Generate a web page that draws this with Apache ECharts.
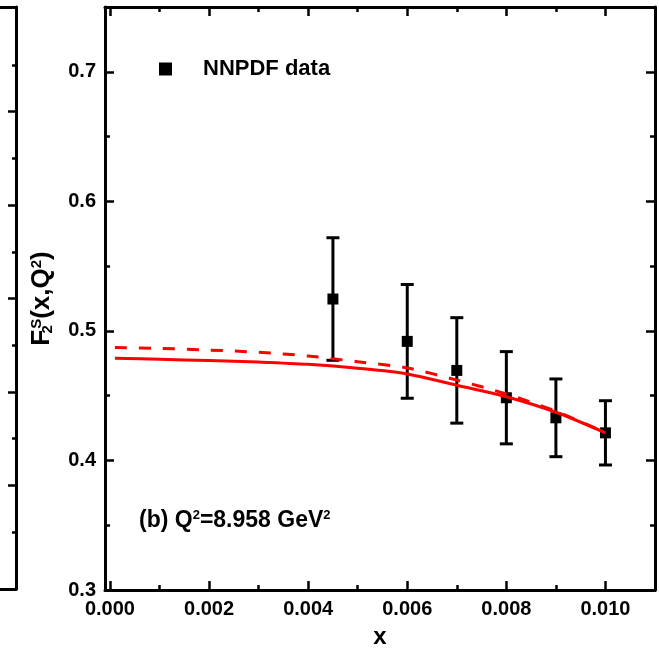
<!DOCTYPE html>
<html><head><meta charset="utf-8">
<script src="https://cdn.jsdelivr.net/npm/echarts@6/dist/echarts.min.js"></script>
<style>html,body{margin:0;padding:0;background:#fff}#c{width:659px;height:653px}</style>
</head><body><div id="c"></div>
<script>
// ---- data ----
const xData = [0.0045, 0.006, 0.007, 0.008, 0.009, 0.010];
const yData = [0.5246, 0.4919, 0.4695, 0.4484, 0.4329, 0.4213];
const yErr  = [0.0473, 0.0439, 0.0407, 0.0356, 0.0300, 0.0248];
const curveX  = [0.0001, 0.001, 0.002, 0.003, 0.004, 0.005, 0.006, 0.007, 0.008, 0.009, 0.010];
const solidY  = [0.4788, 0.4781, 0.4771, 0.4759, 0.4742, 0.4712, 0.4668, 0.4580, 0.4492, 0.4372, 0.4213];
const dashedY = [0.4872, 0.4865, 0.4852, 0.4835, 0.4806, 0.4762, 0.4714, 0.4620, 0.4513, 0.4380, 0.4215];
const xMajorTicks = [0, 0.002, 0.004, 0.006, 0.008, 0.010];
const xMinorTicks = [0.001, 0.003, 0.005, 0.007, 0.009];
const yMajorTicks = [0.3, 0.4, 0.5, 0.6, 0.7];
const yMinorTicks = [0.35, 0.45, 0.55, 0.65];
const leftPanelMajorTicks = [1, 3, 5, 7, 9];
const leftPanelMinorTicks = [0, 2, 4, 6, 8, 10];
const seriesName = 'NNPDF data';

const FONT = 'Liberation Sans, Arial, sans-serif';
const BLACK = '#000';
const RED = '#ff0000';
const axisLineStyle = {color: BLACK, width: 3};
const lineOn = {show: true, onZero: false, lineStyle: axisLineStyle};
const lineOff = {show: false, onZero: false};

function xAx(opts) {
  return Object.assign({
    type: 'value', gridIndex: 0, min: -0.0001, max: 0.011,
    splitLine: {show: false}, axisLine: lineOff,
    axisTick: {show: false}, axisLabel: {show: false}
  }, opts);
}
function yAx(opts) {
  return Object.assign({
    type: 'value', gridIndex: 0, min: 0.3, max: 0.75,
    splitLine: {show: false}, axisLine: lineOff,
    axisTick: {show: false}, axisLabel: {show: false}
  }, opts);
}
const majorTick = (vals) => ({show: true, inside: true, length: 9, customValues: vals, lineStyle: {color: BLACK, width: 2.5}});
const minorTick = (vals) => ({show: true, inside: true, length: 5, customValues: vals, lineStyle: {color: BLACK, width: 2.5}});
const plainAxis = (g, pos, line) => ({type: 'value', gridIndex: g, min: 0, max: 1, position: pos,
  axisLine: line ? lineOn : lineOff, axisTick: {show: false}, axisLabel: {show: false}, splitLine: {show: false}});

const chart = echarts.init(document.getElementById('c'), null, {renderer: 'canvas'});
const option = {
  backgroundColor: '#fff',
  animation: false,
  textStyle: {fontFamily: FONT},
  grid: [
    {left: 105, right: 4, top: 7, bottom: 63, outerBoundsMode: 'none', containLabel: false},
    {left: -60, width: 76, top: 7, bottom: 64, outerBoundsMode: 'none', containLabel: false},
    {left: -60, width: 76, top: 65, bottom: 121, outerBoundsMode: 'none', containLabel: false},
    {left: -60, width: 76, top: 65, bottom: 121, outerBoundsMode: 'none', containLabel: false}
  ],
  title: {
    text: '(b) Q{sup|2}=8.958 GeV{sup|2}',
    left: 134, top: 504,
    textStyle: {
      fontFamily: FONT, fontSize: 23, fontWeight: 'bold', color: BLACK,
      rich: {sup: {fontFamily: FONT, fontSize: 13, fontWeight: 'bold', color: BLACK, verticalAlign: 'top'}}
    }
  },
  legend: {
    data: [{name: seriesName, icon: 'rect'}],
    left: 154, top: 53, itemWidth: 13, itemHeight: 13,
    textStyle: {fontFamily: FONT, fontSize: 22, fontWeight: 'bold', color: BLACK, padding: [0, 0, 0, 26]},
    selectedMode: false
  },
  xAxis: [
    xAx({position: 'bottom', axisLine: lineOn,
      axisTick: majorTick(xMajorTicks),
      axisLabel: {show: true, customValues: xMajorTicks, formatter: v => v.toFixed(3),
        fontFamily: FONT, fontSize: 20, fontWeight: 'bold', color: BLACK, margin: 9},
      name: 'x', nameLocation: 'middle', nameGap: 35,
      nameTextStyle: {fontFamily: FONT, fontSize: 24, fontWeight: 'bold', color: BLACK}}),
    xAx({position: 'bottom', axisTick: minorTick(xMinorTicks)}),
    xAx({position: 'top', axisLine: lineOn, axisTick: majorTick(xMajorTicks)}),
    xAx({position: 'top', axisTick: minorTick(xMinorTicks)}),
    plainAxis(1, 'bottom', true),
    plainAxis(1, 'top', true),
    plainAxis(2, 'bottom', false),
    plainAxis(3, 'bottom', false)
  ],
  yAxis: [
    yAx({position: 'left', axisLine: lineOn,
      axisTick: majorTick(yMajorTicks),
      axisLabel: {show: true, customValues: yMajorTicks, formatter: v => v.toFixed(1),
        fontFamily: FONT, fontSize: 20, fontWeight: 'bold', color: BLACK, margin: 9},
      name: '{f|F}{sub|2}{sup|S}{f|(x,Q}{sup|2}{f|)}', nameLocation: 'middle', nameRotate: 90, nameGap: 50,
      nameTextStyle: {fontFamily: FONT, color: BLACK, fontWeight: 'bold', fontSize: 26,
        rich: {
          f: {fontFamily: FONT, fontSize: 26, fontWeight: 'bold', color: BLACK},
          sub: {fontFamily: FONT, fontSize: 15, fontWeight: 'bold', color: BLACK, verticalAlign: 'bottom', width: 1},
          sup: {fontFamily: FONT, fontSize: 15, fontWeight: 'bold', color: BLACK, verticalAlign: 'top'}
        }}}),
    yAx({position: 'left', axisTick: minorTick(yMinorTicks)}),
    yAx({position: 'right', axisLine: lineOn, axisTick: majorTick(yMajorTicks)}),
    yAx({position: 'right', axisTick: minorTick(yMinorTicks)}),
    plainAxis(1, 'right', true),
    {type: 'value', gridIndex: 2, min: 0, max: 10, position: 'right',
      axisLine: lineOff, axisLabel: {show: false}, splitLine: {show: false},
      axisTick: {show: true, inside: true, length: 8, customValues: leftPanelMajorTicks, lineStyle: {color: BLACK, width: 2.5}}},
    {type: 'value', gridIndex: 3, min: 0, max: 10, position: 'right',
      axisLine: lineOff, axisLabel: {show: false}, splitLine: {show: false},
      axisTick: {show: true, inside: true, length: 4, customValues: leftPanelMinorTicks, lineStyle: {color: BLACK, width: 2.5}}}
  ],
  series: [
    {
      type: 'custom', name: 'errors', xAxisIndex: 0, yAxisIndex: 0, z: 2, silent: true,
      data: xData.map((x, i) => [x, yData[i], yErr[i]]),
      renderItem: function (params, api) {
        const x = api.value(0), y = api.value(1), e = api.value(2);
        const top = api.coord([x, y + e]);
        const bot = api.coord([x, y - e]);
        const hw = 6.5;
        const st = {stroke: BLACK, lineWidth: 3};
        return {type: 'group', children: [
          {type: 'line', shape: {x1: top[0], y1: top[1], x2: bot[0], y2: bot[1]}, style: st},
          {type: 'line', shape: {x1: top[0] - hw, y1: top[1], x2: top[0] + hw, y2: top[1]}, style: st},
          {type: 'line', shape: {x1: bot[0] - hw, y1: bot[1], x2: bot[0] + hw, y2: bot[1]}, style: st}
        ]};
      }
    },
    {
      type: 'scatter', name: seriesName, xAxisIndex: 0, yAxisIndex: 0, z: 3,
      symbol: 'rect', symbolSize: 11, itemStyle: {color: BLACK, opacity: 1},
      data: xData.map((x, i) => [x, yData[i]])
    },
    {
      type: 'line', name: 'solid', xAxisIndex: 0, yAxisIndex: 0, z: 4, smooth: 0.3,
      showSymbol: false, symbol: 'none', lineStyle: {color: RED, width: 3},
      data: curveX.map((x, i) => [x, solidY[i]])
    },
    {
      type: 'line', name: 'dashed', xAxisIndex: 0, yAxisIndex: 0, z: 4, smooth: 0.3,
      showSymbol: false, symbol: 'none', lineStyle: {color: RED, width: 3, type: [12, 12]},
      data: curveX.map((x, i) => [x, dashedY[i]])
    }
  ]
};
chart.setOption(option);
</script>
</body></html>
